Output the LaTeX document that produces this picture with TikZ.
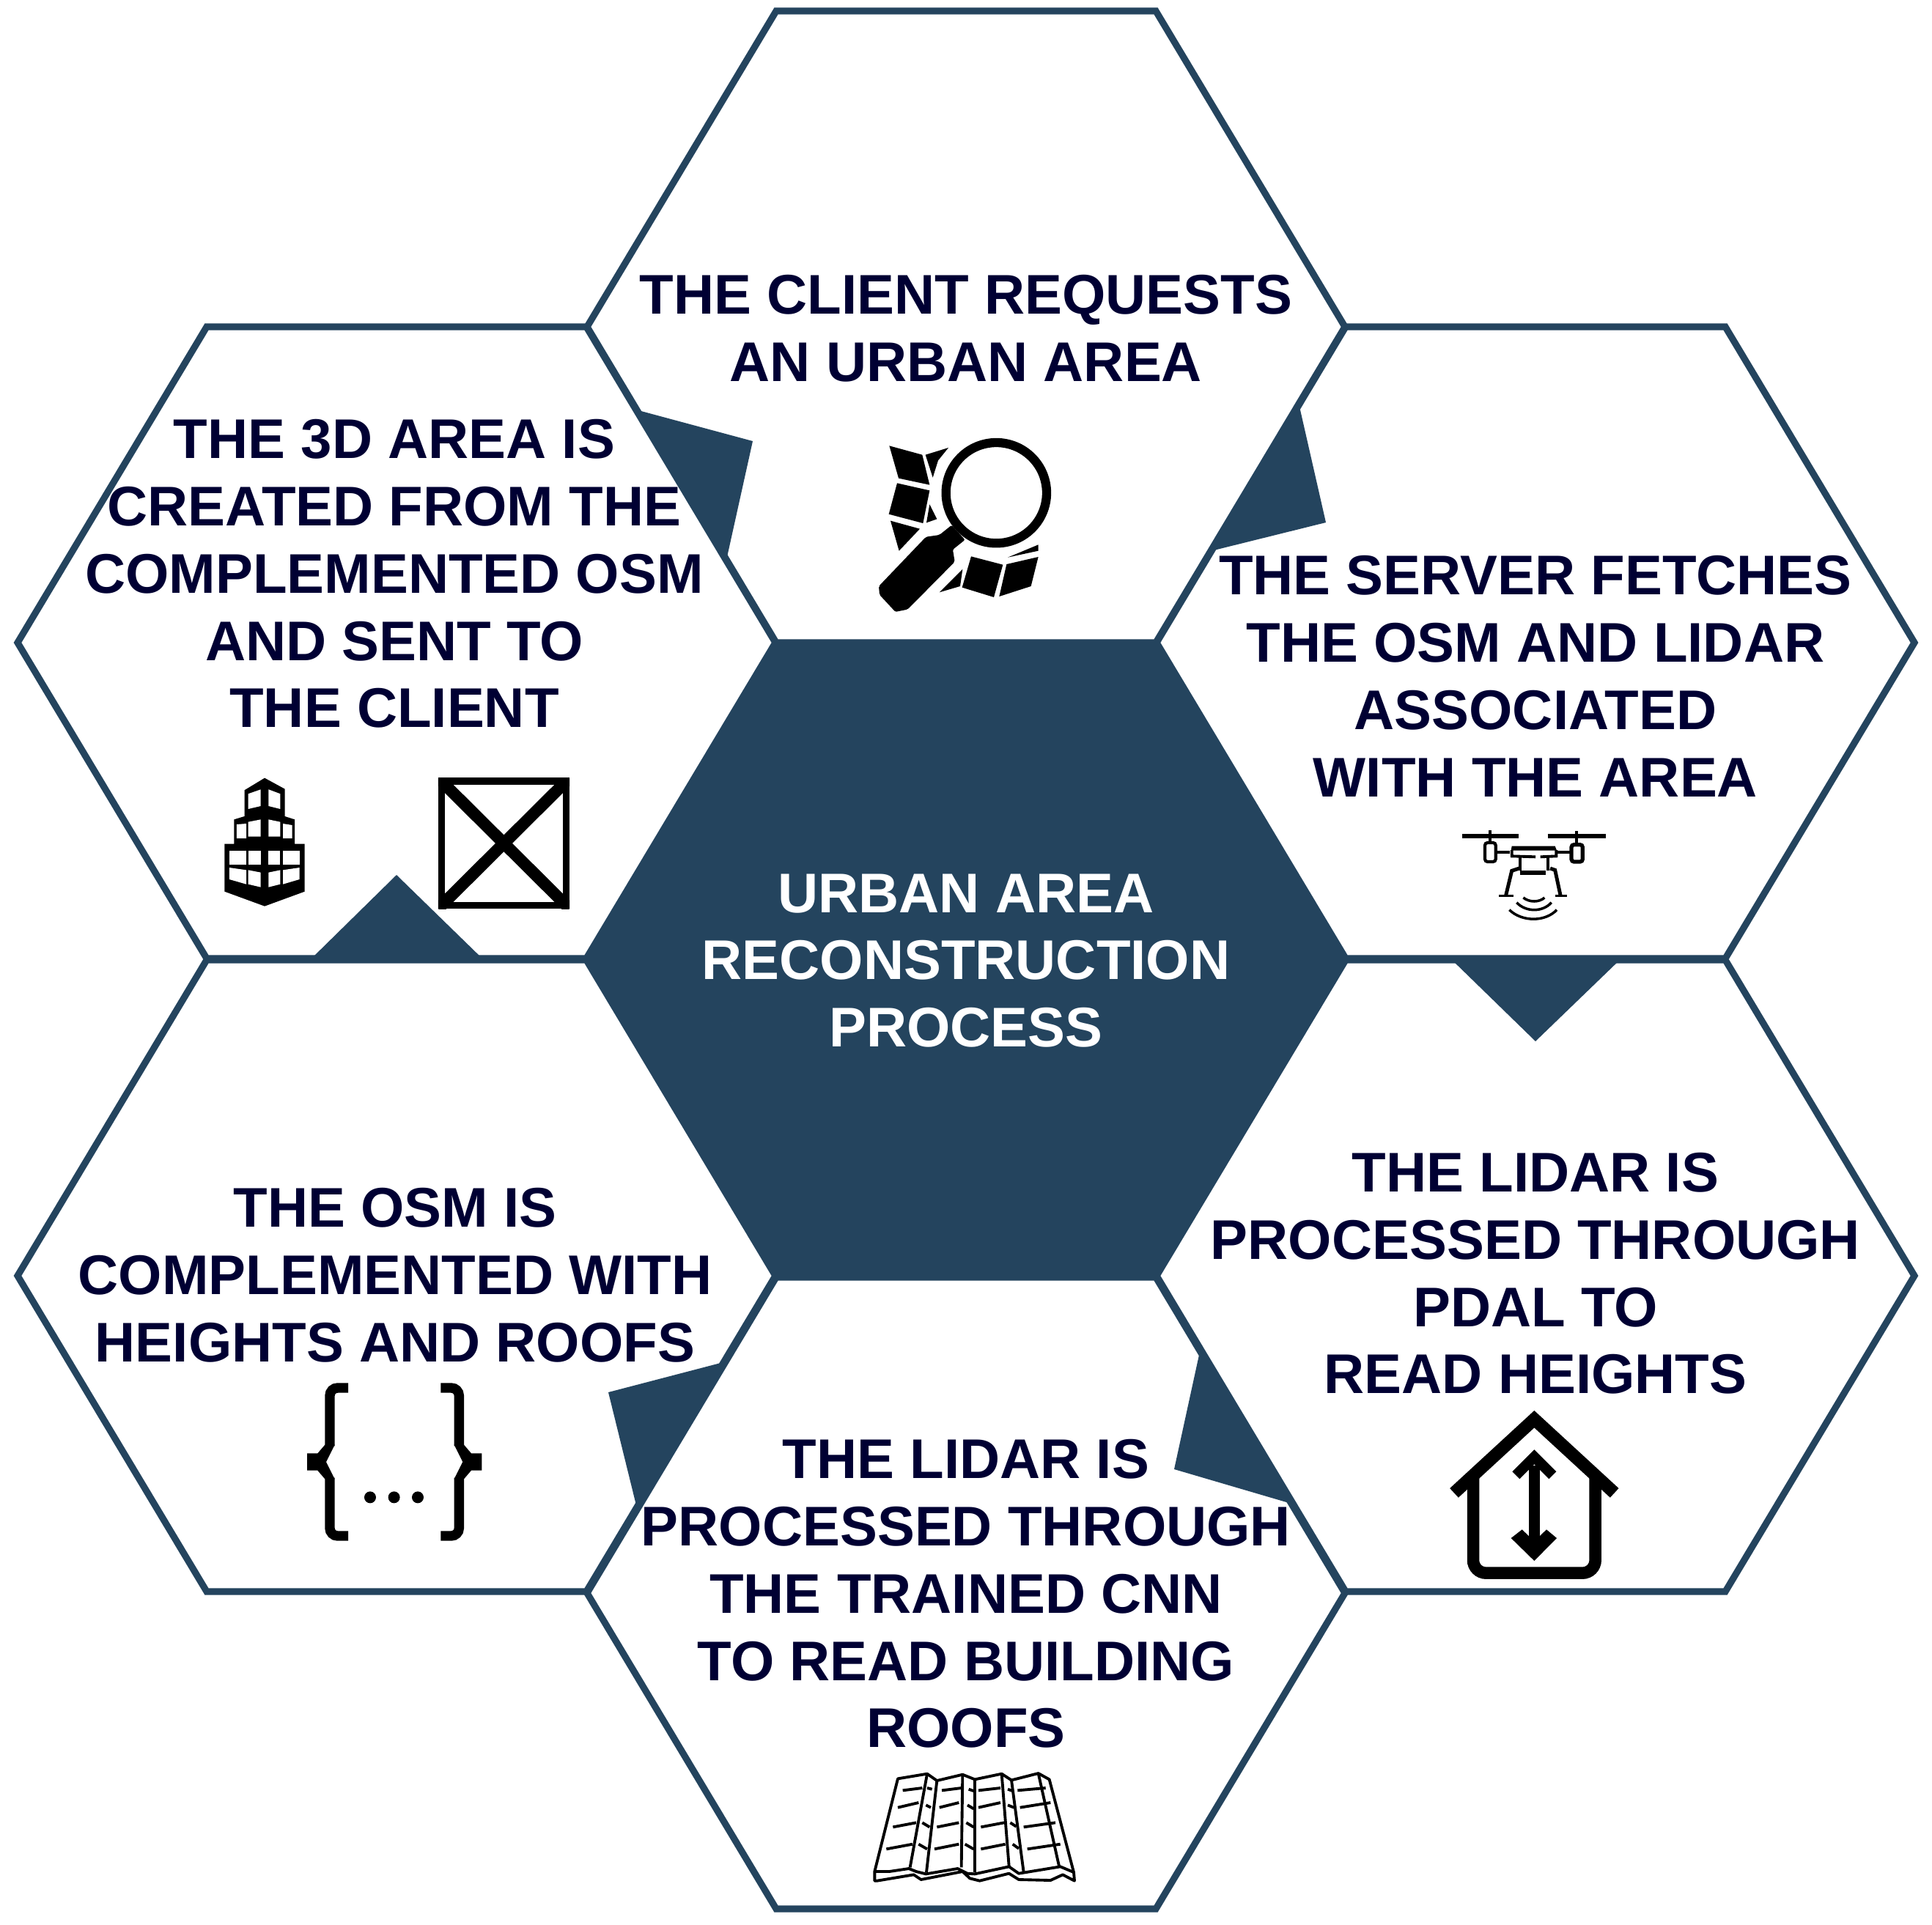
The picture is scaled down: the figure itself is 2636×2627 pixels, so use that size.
\documentclass[tikz,border=0pt]{standalone}
\usepackage{fontspec}
\setmainfont{Liberation Sans}
\definecolor{hexblue}{HTML}{24445E}
\definecolor{labelnavy}{HTML}{000033}
\tikzset{
  hexcell/.style={draw=hexblue,line width=2.6pt,line join=miter,fill=white},
  pointer/.style={fill=hexblue},
  hexlabel/.style={align=center,text=labelnavy,inner sep=0pt,font=\fontsize{21.7}{26.1}\selectfont\bfseries},
  icon/.style={fill=black},
  iconline/.style={draw=black,line cap=butt}
}
\newcommand{\hexpath}[2]{(#1-517,#2) -- (#1-259,#2-431) -- (#1+259,#2-431) -- (#1+517,#2) -- (#1+259,#2+431) -- (#1-259,#2+431) -- cycle}
\begin{document}
\begin{tikzpicture}[x=0.01cm,y=-0.01cm]
\useasboundingbox (0,0) rectangle (2636,2627);
\foreach \cx/\cy in {1318/446,541/877,2095/877,541/1741,2095/1741,1318/2174}
  \draw[hexcell] \hexpath{\cx}{\cy};
\draw[hexcell,fill=hexblue] \hexpath{1318}{1309};
% pointers
\fill[pointer] (871,560) -- (1027,602) -- (992,760) -- cycle;
\fill[pointer] (1773,555) -- (1809,713) -- (1656,751) -- cycle;
\fill[pointer] (1980,1309) -- (2211,1309) -- (2095,1421) -- cycle;
\fill[pointer] (1636,1849) -- (1602,2005) -- (1762,2052) -- cycle;
\fill[pointer] (987,1859) -- (830,1900) -- (868,2054) -- cycle;
\fill[pointer] (424,1309) -- (659,1309) -- (541,1194) -- cycle;
% labels
\node[hexlabel] (request) at (1318,448) {THE CLIENT REQUESTS\\AN URBAN AREA};
\node[hexlabel] (created) at (538,783) {THE 3D AREA IS\\CREATED FROM THE\\COMPLEMENTED OSM\\AND SENT TO\\THE CLIENT};
\node[hexlabel] (fetch) at (2095,923) {THE SERVER FETCHES\\THE OSM AND LIDAR\\ASSOCIATED\\WITH THE AREA};
\node[hexlabel,text=white] (process) at (1318,1311) {URBAN AREA\\RECONSTRUCTION\\PROCESS};
\node[hexlabel] (heights) at (2095,1738) {THE LIDAR IS\\PROCESSED THROUGH\\PDAL TO\\READ HEIGHTS};
\node[hexlabel] (complement) at (539,1740) {THE OSM IS\\COMPLEMENTED WITH\\HEIGHTS AND ROOFS};
\node[hexlabel] (roofs) at (1318,2175) {THE LIDAR IS\\PROCESSED THROUGH\\THE TRAINED CNN\\TO READ BUILDING\\ROOFS};
% map and magnifier
\begin{scope}[shift={(1150,550)},scale=1/3]
\draw[iconline,line width=3.5pt] (628,368) circle (206);
\fill[icon,rounded corners=.6pt] (147,750) -- (340,548) -- (395,540) -- (445,500) -- (500,560) -- (450,600) -- (458,650) -- (265,845) -- (215,855) -- (150,785) -- cycle;
\fill[icon] (190,175) -- (325,212) -- (355,335) -- (228,308) -- cycle;
\fill[icon] (338,212) -- (432,183) -- (390,235) -- (368,305) -- cycle;
\fill[icon] (222,328) -- (355,358) -- (328,492) -- (188,455) -- cycle;
\fill[icon] (355,415) -- (385,475) -- (342,490) -- cycle;
\fill[icon] (195,482) -- (315,515) -- (230,605) -- cycle;
\fill[icon] (395,775) -- (490,680) -- (480,750) -- cycle;
\fill[icon] (525,628) -- (655,662) -- (618,795) -- (488,755) -- cycle;
\fill[icon] (670,660) -- (800,630) -- (770,750) -- (640,792) -- cycle;
\fill[icon] (675,632) -- (800,580) -- (800,605) -- cycle;
\end{scope}
% tower
\begin{scope}[shift={(270,1040)},xscale=1/2.8,yscale=1/3]
\fill[icon] (102,335) -- (138,335) -- (138,235) -- (178,222) -- (178,115) -- (255,65) -- (332,110) -- (332,222) -- (370,235) -- (370,335) -- (408,335) -- (408,530) -- (255,590) -- (102,530) -- cycle;
\fill[white] (192,130) -- (240,112) -- (240,180) -- (192,192) -- cycle;
\fill[white] (270,112) -- (315,130) -- (315,192) -- (270,180) -- cycle;
\fill[white] (148,255) -- (185,252) -- (185,312) -- (148,312) -- cycle;
\fill[white] (192,245) -- (240,235) -- (240,305) -- (192,305) -- cycle;
\fill[white] (270,235) -- (315,245) -- (315,305) -- (270,305) -- cycle;
\fill[white] (325,252) -- (360,258) -- (360,312) -- (325,312) -- cycle;
\foreach \xa/\xb in {120/185,192/240,270/315,325/388}
  \fill[white] (\xa,362) rectangle (\xb,420);
\fill[white] (120,432) -- (185,442) -- (185,500) -- (120,480) -- cycle;
\fill[white] (192,442) -- (240,452) -- (240,512) -- (192,500) -- cycle;
\fill[white] (270,452) -- (315,442) -- (315,500) -- (270,512) -- cycle;
\fill[white] (325,442) -- (388,432) -- (388,480) -- (325,500) -- cycle;
% crossed square
\draw[iconline,line width=2.6pt] (931,78) rectangle (1407,587);
\begin{scope}
\clip (918,65) rectangle (1420,600);
\draw[iconline,line width=4.6pt] (918,65) -- (1420,600);
\draw[iconline,line width=4.6pt] (1420,65) -- (918,600);
\end{scope}
\end{scope}
% drone
\begin{scope}[shift={(1950,1110)},scale=1/3]
\draw[iconline,line width=1.9pt] (135,93) -- (365,93);
\draw[iconline,line width=1.9pt] (485,93) -- (722,93);
\draw[iconline,line width=1.2pt] (250,70) -- (250,115);
\draw[iconline,line width=1.4pt] (603,72) -- (603,125);
\draw[iconline,line width=1.2pt,rounded corners=1pt] (228,120) rectangle (272,198);
\draw[iconline,line width=1.5pt,rounded corners=1pt] (582,128) rectangle (628,198);
\draw[iconline,line width=1.2pt] (272,160) -- (330,160);
\draw[iconline,line width=1.2pt] (525,160) -- (580,160);
\fill[icon] (338,134) -- (515,134) -- (522,152) -- (335,152) -- cycle;
\draw[iconline,line width=1.1pt] (338,150) -- (338,175) -- (435,178);
\draw[iconline,line width=1.1pt] (520,150) -- (520,175) -- (455,178);
\draw[iconline,line width=1.2pt] (372,180) -- (372,235);
\draw[iconline,line width=1.2pt] (485,180) -- (485,235);
\draw[iconline,line width=1.7pt] (372,242) -- (478,242);
\draw[iconline,line width=1.4pt] (368,225) -- (338,235) -- (314,335);
\draw[iconline,line width=1.4pt] (495,225) -- (515,232) -- (537,335);
\draw[iconline,line width=1pt] (285,337) -- (345,337);
\draw[iconline,line width=1pt] (515,337) -- (565,337);
\draw[iconline,line width=1pt] (385,345) .. controls (410,365) and (450,365) .. (472,345);
\draw[iconline,line width=1pt] (358,365) .. controls (395,405) and (465,405) .. (500,365);
\draw[iconline,line width=1pt] (328,395) .. controls (380,445) and (475,445) .. (522,395);
\end{scope}
% house
\begin{scope}[shift={(1960,1910)},scale=1/3]
\draw[iconline,line width=4.9pt,line join=miter] (72,382) -- (400,80) -- (728,382);
\draw[iconline,line width=4.7pt,rounded corners=5pt] (150,320) -- (150,710) -- (650,710) -- (650,320);
\draw[iconline,line width=4.2pt] (400,270) -- (400,600);
\fill[icon] (400,205) -- (490,295) -- (460,325) -- (400,265) -- (340,325) -- (310,295) -- cycle;
\fill[icon] (400,660) -- (492,567) -- (450,532) -- (400,580) -- (350,532) -- (305,567) -- cycle;
\end{scope}
% braces
\begin{scope}[shift={(400,1860)},scale=1/3]
\draw[iconline,line width=3.8pt,rounded corners=3pt] (225,102) -- (150,102) -- (150,340);
\draw[iconline,line width=3.8pt,rounded corners=3pt] (150,470) -- (150,708) -- (225,708);
\fill[icon] (57,370) -- (100,370) -- (130,335) -- (170,335) -- (135,405) -- (170,475) -- (130,475) -- (100,440) -- (57,440) -- cycle;
\draw[iconline,line width=3.8pt,rounded corners=3pt] (604,102) -- (679,102) -- (679,340);
\draw[iconline,line width=3.8pt,rounded corners=3pt] (679,470) -- (679,708) -- (604,708);
\fill[icon] (772,370) -- (729,370) -- (699,335) -- (659,335) -- (694,405) -- (659,475) -- (699,475) -- (729,440) -- (772,440) -- cycle;
\foreach \xd in {315,413,510}
  \fill[icon] (\xd,550) circle (24);
\end{scope}
% roof
\begin{scope}[shift={(1170,2400)},scale=1/3,line join=round]
\draw[iconline,line width=1.1pt] (70,462) -- (165,82) -- (285,62) -- (325,90) -- (430,65) -- (480,85) -- (590,62) -- (630,88) -- (740,60) -- (785,85) -- (885,465) -- (888,500) -- (840,475) -- (790,498) -- (660,495) -- (620,470) -- (500,500) -- (460,490) -- (430,462) -- (260,495) -- (230,475) -- (80,500) -- (70,500) -- cycle;
\draw[iconline,line width=1.1pt] (70,462) -- (130,462) -- (210,450) -- (240,462) -- (280,472) -- (410,450) -- (450,470) -- (480,472) -- (620,442) -- (660,470) -- (830,442) -- (885,465);
\foreach \xa/\ya/\xb/\yb in {285/62/215/445,325/90/282/465,430/65/425/445,480/85/480/465,590/62/620/440,630/88/680/465,740/60/825/440}
  \draw[iconline,line width=1.1pt] (\xa,\ya) -- (\xb,\yb);
\foreach \xa/\ya/\xb/\yb in {185/130/265/120,165/200/250/180,145/280/240/262,118/370/225/350,345/130/425/120,335/200/415/180,325/280/415/262,315/370/415/350,495/130/585/120,495/200/585/180,505/280/600/262,505/370/605/350,655/130/770/120,665/200/790/180,680/280/810/262,695/370/830/350}
  \draw[iconline,line width=1.1pt] (\xa,\ya) -- (\xb,\yb);
\foreach \xa/\ya/\xb/\yb in {285/120/305/125,280/190/300/200,265/262/295/280,250/350/285/370,455/125/475/132,450/190/475/205,445/262/475/280,440/350/475/370,615/125/635/132,615/190/640/200,625/262/650/278,635/350/660/368}
  \draw[iconline,line width=1.1pt] (\xa,\ya) -- (\xb,\yb);
\end{scope}
\end{tikzpicture}
\end{document}
